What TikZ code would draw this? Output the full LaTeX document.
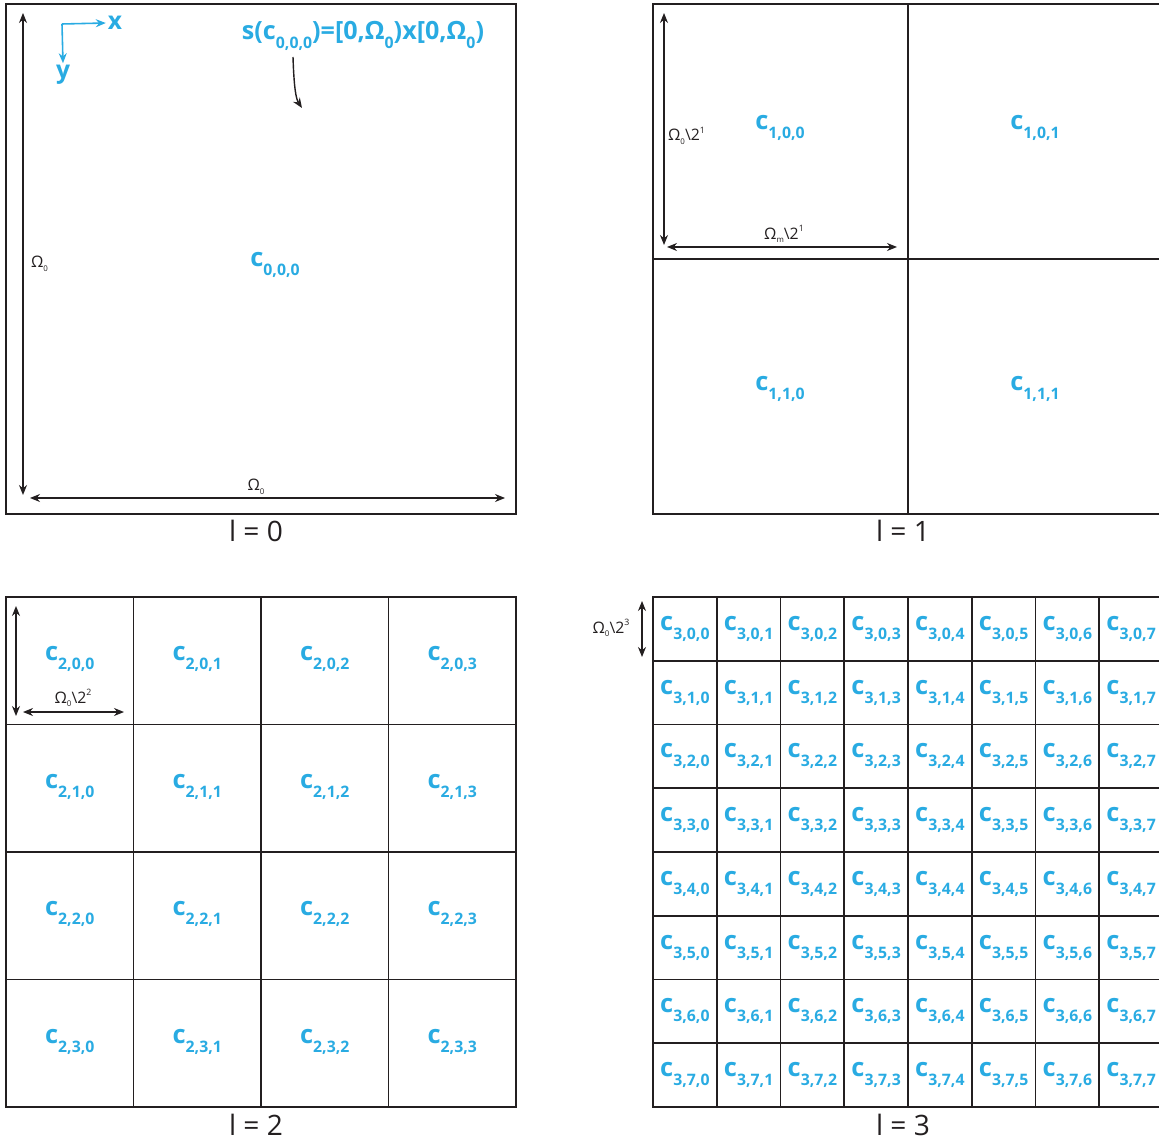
\documentclass[tikz,border=0pt]{standalone}
\usepackage{fontspec}
\setmainfont{Open Sans}
\usepackage{tikz}
\usetikzlibrary{arrows.meta,positioning}
\definecolor{qcyan}{HTML}{29ABE2}
\definecolor{qline}{HTML}{231F20}
\newcommand{\cellname}[1]{c\raisebox{-0.65ex}{\fontsize{9}{9}\selectfont\bfseries #1}}
\newcommand{\omlo}[1]{Ω\raisebox{-0.45ex}{\fontsize{4.5}{5}\selectfont #1}}
\newcommand{\omttl}[1]{Ω\raisebox{-0.65ex}{\fontsize{9}{9}\selectfont\bfseries #1}}
\newcommand{\twohi}[1]{2\raisebox{0.9ex}{\fontsize{5}{5}\selectfont #1}}
\tikzset{
  >={Stealth[length=2mm,width=1.6mm]},
  qbox/.style={draw=qline, line width=1.1pt},
  qdim/.style={<->, qline, line width=0.7pt},
  qcell/.style={qcyan, font=\fontsize{14.5}{14.5}\selectfont\bfseries, inner sep=0pt},
  qsize/.style={qline, font=\fontsize{9}{10}\selectfont, inner sep=1pt},
  qlevel/.style={qline, font=\fontsize{16}{18}\selectfont},
  qaxis/.style={->, qcyan, line width=0.9pt},
  qaxlbl/.style={qcyan, font=\fontsize{14}{14}\selectfont\bfseries, inner sep=1pt},
}

\begin{document}
\begin{tikzpicture}[x=0.02cm,y=-0.02cm]
  \clip (0,0) rectangle (1159,1141);

  % l = 0
  \draw[qbox] (6,4) rectangle (516,514);
  \node[qcell] (c000) at (275,265) {\cellname{0,0,0}};
  \node[qlevel] (lev0) at (256,531) {l = 0};

  \coordinate (ax0) at (62,24);
  \node[qaxlbl] (xlab) at (115,23) {x};
  \node[qaxlbl] (ylab) at (63,75) {y};
  \draw[qaxis] (ax0) -- (xlab.west);
  \draw[qaxis] (ax0) -- (ylab.north);

  \node[qcell, font=\fontsize{14.3}{14.3}\selectfont\bfseries] (ttl) at (363,36)
    {s(\cellname{0,0,0})=[0,\omttl{0})x[0,\omttl{0})};
  \coordinate (tA) at (293,57);
  \coordinate (tB) at (302,108);
  \draw[->, qline, line width=0.8pt] (tA) .. controls (294,88) and (296,99) .. (tB);

  \coordinate (v0a) at (23,13);
  \coordinate (v0b) at (23,495);
  \draw[qdim] (v0a) -- (v0b);
  \node[qsize, anchor=west] (v0l) at (29,264) {\omlo{0}};
  \coordinate (h0a) at (30,498);
  \coordinate (h0b) at (505,498);
  \draw[qdim] (h0a) -- (h0b);
  \node[qsize] (h0l) at (256,487) {\omlo{0}};

  % l = 1
  \foreach \r in {0,1}{
    \foreach \c in {0,1}{
      \draw[qbox] (653+255*\c,4+255*\r) rectangle ++(255,255);
      \node[qcell] (c1\r\c) at (780+255*\c,128+261*\r) {\cellname{1,\r,\c}};
    }
  }
  \node[qlevel] (lev1) at (903,531) {l = 1};

  \coordinate (v1a) at (664,13);
  \coordinate (v1b) at (664,245);
  \draw[qdim] (v1a) -- (v1b);
  \node[qsize, anchor=west] (v1l) at (666,136) {\omlo{0}\textbackslash\twohi{1}};
  \coordinate (h1a) at (667,247);
  \coordinate (h1b) at (897,247);
  \draw[qdim] (h1a) -- (h1b);
  \node[qsize] (h1l) at (784,234) {\omlo{m}\textbackslash\twohi{1}};

  % l = 2
  \foreach \r in {0,...,3}{
    \foreach \c in {0,...,3}{
      \draw[qbox] (6+127.5*\c,597+127.5*\r) rectangle ++(127.5,127.5);
      \node[qcell] (c2\r\c) at (69.75+127.5*\c,659+127.5*\r) {\cellname{2,\r,\c}};
    }
  }
  \node[qlevel] (lev2) at (256,1125) {l = 2};

  \coordinate (v2a) at (16,606);
  \coordinate (v2b) at (16,716);
  \draw[qdim] (v2a) -- (v2b);
  \coordinate (h2a) at (23,712);
  \coordinate (h2b) at (124,712);
  \draw[qdim] (h2a) -- (h2b);
  \node[qsize] (h2l) at (73,698) {\omlo{0}\textbackslash\twohi{2}};

  % l = 3
  \foreach \r in {0,...,7}{
    \foreach \c in {0,...,7}{
      \draw[qbox] (653+63.75*\c,597+63.75*\r) rectangle ++(63.75,63.75);
      \node[qcell] (c3\r\c) at (684.875+63.75*\c,628.875+63.75*\r) {\cellname{3,\r,\c}};
    }
  }
  \node[qlevel] (lev3) at (903,1125) {l = 3};

  \coordinate (v3a) at (642,601);
  \coordinate (v3b) at (642,657);
  \draw[qdim] (v3a) -- (v3b);
  \node[qsize] (v3l) at (611,628) {\omlo{0}\textbackslash\twohi{3}};

\end{tikzpicture}
\end{document}
